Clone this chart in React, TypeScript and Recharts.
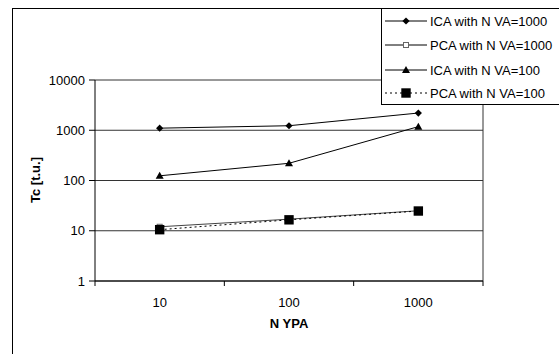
import React from 'react';
import { LineChart, Line, XAxis, YAxis, CartesianGrid } from 'recharts';

const categories = ['10', '100', '1000'];
const icaVA1000 = [1100, 1230, 2200];
const pcaVA1000 = [12, 17, 25];
const icaVA100 = [124, 220, 1180];
const pcaVA100 = [10.5, 16.5, 24.7];
const yTicks = [1, 10, 100, 1000, 10000];
const seriesNames = ['ICA with N VA=1000', 'PCA with N VA=1000', 'ICA with N VA=100', 'PCA with N VA=100'];

const data = categories.map((c, i) => ({
  cat: c,
  ica1000: icaVA1000[i],
  pca1000: pcaVA1000[i],
  ica100: icaVA100[i],
  pca100: pcaVA100[i],
}));

const W = 559;
const H = 354;
const M = { top: 80, right: 76, left: 35, bottom: 43 };
const YW = 60;
const XH = 30;
const PLOT_LEFT = M.left + YW;
const PLOT_RIGHT = W - M.right;
const PLOT_BOTTOM = H - M.bottom - XH;
const HALF = (PLOT_RIGHT - PLOT_LEFT) / categories.length / 2;
const FONT = '"Liberation Sans", Arial, sans-serif';

const Diamond = (p: any) => {
  const { cx, cy } = p;
  if (cx == null || cy == null) return null;
  const s = 3.6;
  return <path d={`M${cx},${cy - s} L${cx + s},${cy} L${cx},${cy + s} L${cx - s},${cy} Z`} fill="#000" />;
};
const SmallSquare = (p: any) => {
  const { cx, cy } = p;
  if (cx == null || cy == null) return null;
  return <rect x={cx - 2.5} y={cy - 2.5} width={5} height={5} fill="#fff" stroke="#666" strokeWidth={1} />;
};
const Triangle = (p: any) => {
  const { cx, cy } = p;
  if (cx == null || cy == null) return null;
  return <path d={`M${cx},${cy - 4} L${cx + 4},${cy + 3} L${cx - 4},${cy + 3} Z`} fill="#000" />;
};
const BigSquare = (p: any) => {
  const { cx, cy } = p;
  if (cx == null || cy == null) return null;
  return <rect x={cx - 4.7} y={cy - 4.7} width={9.4} height={9.4} fill="#000" />;
};

const XTick = (p: any) => {
  const { x, index, payload } = p;
  return (
    <g>
      <line x1={x - HALF} x2={x - HALF} y1={PLOT_BOTTOM} y2={PLOT_BOTTOM + 5} stroke="#000" />
      {index === categories.length - 1 && (
        <line x1={x + HALF} x2={x + HALF} y1={PLOT_BOTTOM} y2={PLOT_BOTTOM + 5} stroke="#000" />
      )}
      <text x={x} y={PLOT_BOTTOM + 26} textAnchor="middle" fontSize={13} fontFamily={FONT} fill="#000">
        {payload.value}
      </text>
    </g>
  );
};

const YTick = (p: any) => {
  const { y, payload } = p;
  return (
    <text x={PLOT_LEFT - 10} y={y + 4.5} textAnchor="end" fontSize={13} fontFamily={FONT} fill="#000">
      {payload.value}
    </text>
  );
};

const markers = [Diamond, SmallSquare, Triangle, BigSquare];

const LegendBox = () => {
  const rows = [13, 37, 62, 85];
  return (
    <svg width={190} height={98} style={{ position: 'absolute', left: 381, top: 8 }}>
      <rect x={0.5} y={0.5} width={200} height={96} fill="#fff" stroke="#000" strokeWidth={1} />
      {seriesNames.map((n, i) => {
        const M2 = markers[i];
        const y = rows[i];
        return (
          <g key={n}>
            <line x1={4} x2={46} y1={y} y2={y} stroke="#000" strokeWidth={1} strokeDasharray={i === 3 ? '2 3' : undefined} />
            <M2 cx={25} cy={y} />
            <text x={49} y={y + 4.5} fontSize={13} fontFamily={FONT} fill="#000">{n}</text>
          </g>
        );
      })}
    </svg>
  );
};

export default function App() {
  return (
    <div style={{ position: 'absolute', left: 0, top: 0, width: W, height: H, overflow: 'hidden', background: '#fff' }}>
      <div style={{ position: 'absolute', left: 12, top: 8, width: 700, height: 500, borderLeft: '1.5px solid #000', borderTop: '1.5px solid #000' }} />
      <div style={{ position: 'absolute', left: 0, top: 0 }}>
        <LineChart width={W} height={H} data={data} margin={M}>
          <CartesianGrid vertical={true} horizontal={true} verticalPoints={[PLOT_RIGHT]} stroke="#333" strokeWidth={1} />
          <XAxis
            dataKey="cat"
            height={XH}
            padding={{ left: HALF, right: HALF }}
            tickLine={false}
            axisLine={{ stroke: '#000' }}
            tick={<XTick />}
            interval={0}
            label={{
              content: () => (
                <text x={(PLOT_LEFT + PLOT_RIGHT) / 2} y={328} textAnchor="middle" fontSize={13} fontWeight="bold" fontFamily={FONT}>N YPA</text>
              ),
            }}
          />
          <YAxis
            scale="log"
            domain={[1, 10000]}
            ticks={yTicks}
            width={YW}
            tickSize={6}
            tickLine={{ stroke: '#000' }}
            axisLine={{ stroke: '#000' }}
            tick={<YTick />}
            interval={0}
            allowDataOverflow
            label={{
              content: () => (
                <text x={40} y={180} transform="rotate(-90 40 180)" textAnchor="middle" fontSize={13} fontWeight="bold" fontFamily={FONT}>Tc [t.u.]</text>
              ),
            }}
          />
          <Line dataKey="ica1000" stroke="#000" strokeWidth={1} dot={<Diamond />} isAnimationActive={false} />
          <Line dataKey="pca1000" stroke="#444" strokeWidth={1} dot={<SmallSquare />} isAnimationActive={false} />
          <Line dataKey="ica100" stroke="#000" strokeWidth={1} dot={<Triangle />} isAnimationActive={false} />
          <Line dataKey="pca100" stroke="#000" strokeWidth={1} strokeDasharray="2 3" dot={<BigSquare />} isAnimationActive={false} />
        </LineChart>
      </div>
      <LegendBox />
    </div>
  );
}
